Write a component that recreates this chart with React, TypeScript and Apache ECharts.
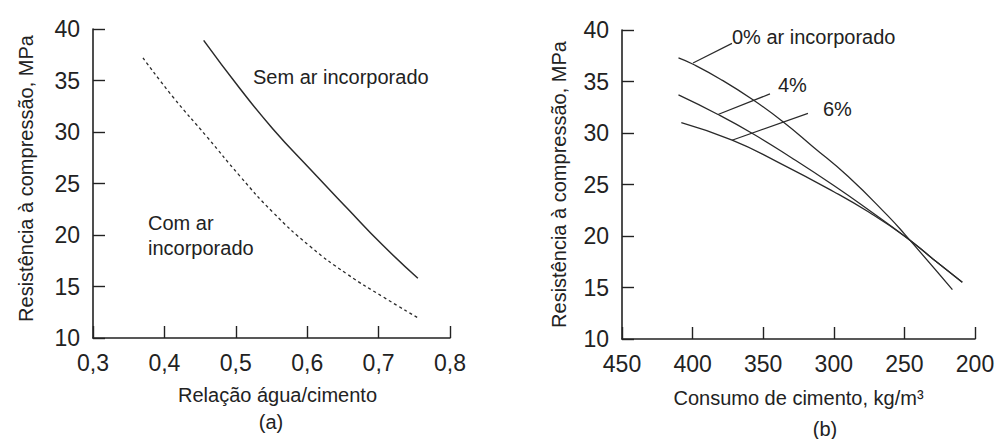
import React, { useEffect, useRef } from "react";
import * as echarts from "echarts";

// (a) Relação água/cimento vs resistência
const semArX = [0.455, 0.506, 0.552, 0.604, 0.656, 0.706, 0.755];
const semArY = [38.9, 34.2, 30.3, 26.4, 22.6, 19.0, 15.8];
const comArX = [0.37, 0.412, 0.46, 0.506, 0.552, 0.604, 0.656, 0.706, 0.754];
const comArY = [37.2, 33.4, 29.5, 25.7, 22.2, 18.9, 16.2, 14.0, 12.0];

// (b) Consumo de cimento vs resistência
const cement0 = [410, 400, 380, 357, 336, 315, 290, 262, 250, 216];
const res0 = [37.3, 36.7, 35.2, 33.2, 31.1, 28.7, 25.8, 22.0, 20.2, 14.8];
const cement4 = [410, 382, 357, 330, 300, 275, 250, 230, 209];
const res4 = [33.7, 31.8, 29.9, 27.6, 24.9, 22.5, 20.0, 17.8, 15.5];
const cement6 = [408, 372, 340, 300, 275, 250, 230, 209];
const res6 = [31.0, 29.3, 27.2, 24.3, 22.3, 20.0, 17.8, 15.5];

// leader lines [x1, y1, x2, y2] in data units
const leader0 = [399.7, 36.8, 372.1, 38.7];
const leader4 = [382.0, 31.8, 345.2, 33.8];
const leader6 = [372.1, 29.3, 318.3, 31.9];

const labelsA = ["Sem ar incorporado", "Com ar\nincorporado"];
const labelsB = ["0% ar incorporado", "4%", "6%"];

const FONT = '"Liberation Sans", Arial, Helvetica, sans-serif';
const INK = "#222";
const LINE = "#2a2a2a";

const zip = (xs: number[], ys: number[]) => xs.map((x, i) => [x, ys[i]]);

function leader(l: number[]) {
  return {
    silent: true,
    symbol: "none",
    label: { show: false },
    lineStyle: { color: LINE, width: 1.2, type: "solid" },
    data: [[{ coord: [l[0], l[1]] }, { coord: [l[2], l[3]] }]],
  };
}

export default function App() {
  const ref = useRef<HTMLDivElement>(null);
  useEffect(() => {
    if (!ref.current) return;
    const chart = echarts.init(ref.current, undefined, { renderer: "svg" });
    const axisLine = { show: true, lineStyle: { color: INK, width: 1.6 } };
    const axisTick = { show: true, inside: true, length: 12, lineStyle: { color: INK, width: 1.4 } };
    const yAxisCommon = {
      type: "value",
      min: 10,
      max: 40,
      interval: 5,
      splitLine: { show: false },
      axisLine,
      axisTick,
      axisLabel: { fontSize: 23, color: INK, fontFamily: FONT, margin: 13, padding: [0, 0, 6, 0] },
      nameLocation: "middle",
      nameRotate: 90,
      name: "Resistência à compressão, MPa",
    };
    const textEl = (text: string, x: number, y: number, align = "left", lineHeight = 25) => ({
      type: "text",
      x,
      y,
      silent: true,
      style: {
        text,
        fill: INK,
        fontSize: 20,
        fontFamily: FONT,
        lineHeight,
        textAlign: align,
        align,
        textVerticalAlign: "middle",
        verticalAlign: "middle",
      },
    });
    const curve = (name: string, xi: number, data: number[][], extra: any = {}) => ({
      name,
      type: "line",
      xAxisIndex: xi,
      yAxisIndex: xi,
      data,
      smooth: 0.5,
      showSymbol: false,
      lineStyle: { color: LINE, width: 1.3, ...(extra.lineStyle || {}) },
      ...(extra.markLine ? { markLine: extra.markLine } : {}),
    });
    chart.setOption({
      animation: false,
      backgroundColor: "#fff",
      grid: [
        { left: 93, top: 29, width: 357, height: 309 },
        { left: 622, top: 30, width: 353, height: 309 },
      ],
      xAxis: [
        {
          type: "value",
          gridIndex: 0,
          min: 0.3,
          max: 0.8,
          interval: 0.1,
          splitLine: { show: false },
          axisLine,
          axisTick,
          axisLabel: {
            fontSize: 23,
            color: INK,
            fontFamily: FONT,
            margin: 13,
            showMinLabel: true,
            showMaxLabel: true,
            formatter: (v: number) => v.toFixed(1).replace(".", ","),
          },
          name: "Relação água/cimento",
          nameLocation: "middle",
          nameGap: 47,
          nameTextStyle: { fontSize: 20, color: INK, fontFamily: FONT, padding: [0, 0, 0, 12] },
        },
        {
          type: "value",
          gridIndex: 1,
          min: 200,
          max: 450,
          interval: 50,
          inverse: true,
          splitLine: { show: false },
          axisLine,
          axisTick,
          axisLabel: { fontSize: 23, color: INK, fontFamily: FONT, margin: 13, showMinLabel: true, showMaxLabel: true },
          name: "Consumo de cimento, kg/m³",
          nameLocation: "middle",
          nameGap: 49,
          nameTextStyle: { fontSize: 20, color: INK, fontFamily: FONT },
        },
      ],
      yAxis: [
        {
          ...yAxisCommon,
          gridIndex: 0,
          nameGap: 57,
          nameTextStyle: { fontSize: 20, color: INK, fontFamily: FONT, padding: [0, 0, 0, 10] },
        },
        {
          ...yAxisCommon,
          gridIndex: 1,
          nameGap: 53,
          nameTextStyle: { fontSize: 20, color: INK, fontFamily: FONT },
        },
      ],
      series: [
        curve("Sem ar incorporado", 0, zip(semArX, semArY), { lineStyle: { width: 1.5 } }),
        curve("Com ar incorporado", 0, zip(comArX, comArY), { lineStyle: { type: [3, 3] } }),
        curve("0%", 1, zip(cement0, res0), { markLine: leader(leader0) }),
        curve("4%", 1, zip(cement4, res4), { markLine: leader(leader4) }),
        curve("6%", 1, zip(cement6, res6), { markLine: leader(leader6) }),
      ],
      graphic: [
        textEl(labelsA[0], 253, 77),
        textEl(labelsA[1], 148, 235),
        textEl(labelsB[0], 732, 37),
        textEl(labelsB[1], 778, 85),
        textEl(labelsB[2], 823, 109),
        textEl("(a)", 271, 422, "center"),
        textEl("(b)", 825, 429, "center"),
      ],
    });
    return () => chart.dispose();
  }, []);
  return (
    <div
      ref={ref}
      style={{ position: "fixed", left: 0, top: 0, width: 999, height: 439, background: "#fff" }}
    />
  );
}
